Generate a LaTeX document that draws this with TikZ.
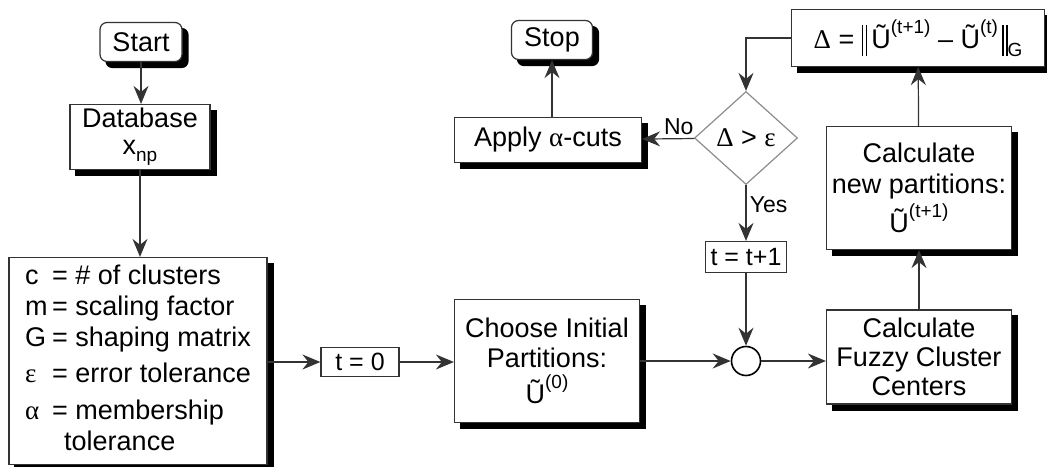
\documentclass[tikz,border=0pt]{standalone}
\usepackage{fontspec}
\setmainfont{Liberation Sans}
\newfontfamily\greekfont{Liberation Serif}
\usetikzlibrary{shapes.geometric,backgrounds,arrows.meta}

\NewDocumentCommand{\tildeU}{m}{Ũ\raisebox{0.55em}{\fontsize{19}{19}\selectfont #1}}
\NewDocumentCommand{\grk}{m}{{\greekfont #1}}
\NewDocumentCommand{\normbar}{}{\rule[-0.28em]{1.3pt}{1.15em}\hspace{2.5pt}\rule[-0.28em]{1.3pt}{1.15em}}
\NewDocumentCommand{\boxshadow}{mO{0pt}}{%
\fill[black, rounded corners=#2] ([xshift=6pt,yshift=-6pt]#1.south west) rectangle ([xshift=6pt,yshift=-6pt]#1.north east);%
}

\tikzset{
  every node/.style={font=\fontsize{27}{31}\selectfont},
  flowbox/.style={draw=black!80, line width=1.2pt, fill=white, inner sep=2pt, align=center},
  termbox/.style={flowbox, rounded corners=7pt},
  counterbox/.style={draw=black!80, line width=1.2pt, fill=white, inner sep=2pt,
    font=\fontsize{25}{29}\selectfont},
  decision/.style={diamond, draw=black!45, line width=1.2pt, inner sep=0pt},
  junction/.style={circle, draw=black, line width=1.6pt, minimum size=29pt, inner sep=0pt},
  flow/.style={draw=black!80, line width=1.2pt, -{Stealth[length=18pt,width=15pt,inset=6pt]}},
  branch/.style={font=\fontsize{23}{27}\selectfont},
}

\begin{document}
\begin{tikzpicture}[x=1pt,y=-1pt]
  \useasboundingbox (0,0) rectangle (1047,466);

  % Left column.
  \node[termbox, minimum width=82, minimum height=39] (start) at (141,42) {Start};
  \node[flowbox, minimum width=140, minimum height=65] (db) at (140,137) {Database\\[-4pt]x\raisebox{-0.25em}{\fontsize{19}{19}\selectfont np}};
  \node[flowbox, minimum width=258, minimum height=207] (params) at (138,361) {%
    \begin{tabular}{@{}l@{\,}l@{}}
      c & = \# of clusters\\
      m & = scaling factor\\
      G & = shaping matrix\\[5pt]
      \grk{ε} & = error tolerance\\[6pt]
      \grk{α} & = membership\\
        & \hspace{0.45em}tolerance
    \end{tabular}};

  % Initialisation.
  \node[counterbox, minimum width=78, minimum height=29] (tzero) at (360,362) {t = 0};
  \node[flowbox, minimum width=185, minimum height=123] (choose) at (547,361) {Choose Initial\\[-1pt]Partitions:\\[5pt]\tildeU{(0)}};

  % Loop.
  \node[junction] (join) at (746,361) {};
  \node[flowbox, minimum width=185, minimum height=94] (centers) at (919,357) {Calculate\\[-2pt]Fuzzy Cluster\\[-2pt]Centers};
  \node[flowbox, minimum width=185, minimum height=123] (newpart) at (919,188) {Calculate\\new partitions:\\[4pt]\tildeU{(t+1)}};
  \node[flowbox, minimum width=253, minimum height=57] (delta) at (918,38) {\grk{Δ} = \normbar\,\tildeU{(t+1)} – \tildeU{(t)}\,\normbar\raisebox{-0.3em}{\fontsize{19}{19}\selectfont G}};
  \node[decision, minimum width=103, minimum height=93] (test) at (746,138) {\grk{Δ} > \grk{ε}};
  \node[counterbox, minimum width=81, minimum height=31] (tinc) at (746,257) {t = t+1};

  % Exit.
  \node[flowbox, minimum width=187, minimum height=45] (cuts) at (548,140) {Apply \grk{α}-cuts};
  \node[termbox, minimum width=81, minimum height=39] (stop) at (552,40) {Stop};

  % Drop shadows.
  \begin{scope}[on background layer]
    \boxshadow{start}[7pt]
    \boxshadow{stop}[7pt]
    \boxshadow{db}
    \boxshadow{params}
    \boxshadow{choose}
    \boxshadow{centers}
    \boxshadow{newpart}
    \boxshadow{delta}
    \boxshadow{cuts}
  \end{scope}

  % Connectors.
  \draw[flow] (start) -- (start.south |- db.north);
  \draw[flow] (db) -- (db.south |- params.north);
  \draw[flow] (params.east |- tzero) -- (tzero);
  \draw[flow] (tzero) -- (choose.west |- tzero);
  \draw[flow] (choose.east |- join) -- (join);
  \draw[flow] (tinc) -- (join);
  \draw[flow] (join) -- (centers.west |- join);
  \draw[flow] (centers) -- (newpart);
  \draw[flow] (newpart) -- (delta);
  \draw[flow] (delta.west) -| (test.north);
  \draw[flow] (test) -- node[branch, above, pos=0.3] {No} (cuts);
  \draw[flow] (test) -- node[branch, right, pos=0.35] {Yes} (tinc);
  \draw[flow] (stop.south |- cuts.north) -- (stop);
\end{tikzpicture}
\end{document}
